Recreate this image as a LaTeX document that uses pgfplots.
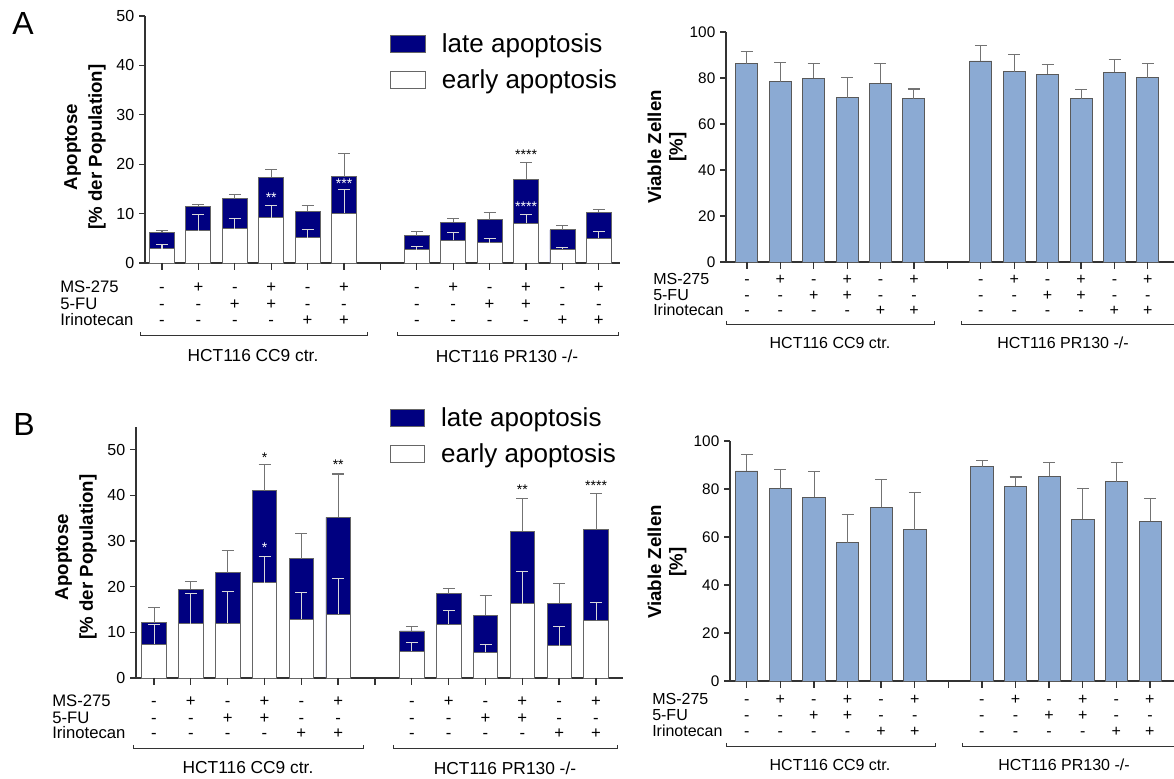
\documentclass[border=0pt]{standalone}
\usepackage{fontspec}
\setmainfont{Liberation Sans}
\usepackage{pgfplots}
\usepackage{pgfplotstable}
\pgfplotsset{compat=1.18}

\definecolor{late}{HTML}{000080}
\definecolor{viab}{HTML}{8BAAD3}
\definecolor{axc}{HTML}{333333}

% apoptosis: early part, its error, total (early+late), its error
\pgfplotstableread{
x early eerr total terr
0  2.9 0.8  6.2 0.3
1  6.5 3.4 11.5 0.4
2  6.9 2.2 13.0 0.8
3  9.2 2.4 17.4 1.6
4  5.1 1.6 10.5 1.2
5 10.1 4.7 17.5 4.6
7  2.7 0.7  5.5 0.8
8  4.6 1.5  8.2 0.8
9  4.1 0.8  8.8 1.5
10 8.0 1.8 17.0 3.3
11 2.8 0.3  6.7 0.9
12 5.0 1.4 10.3 0.5
}\Aapo

\pgfplotstableread{
x early eerr total terr
0   7.4 4.4 12.1 3.3
1  11.9 6.6 19.4 1.8
2  12.0 6.9 23.1 4.8
3  20.9 5.7 41.0 5.8
4  12.9 5.8 26.1 5.6
5  14.0 7.9 35.2 9.5
7   5.9 1.8 10.3 1.0
8  11.8 2.9 18.5 1.2
9   5.6 1.8 13.7 4.4
10 16.3 7.0 32.2 7.1
11  7.1 4.2 16.4 4.4
12 12.6 4.0 32.5 7.9
}\Bapo

\pgfplotstableread{
x v e
0  86.2 5.5
1  78.3 8.5
2  79.9 6.5
3  71.4 9.0
4  77.8 8.3
5  70.9 4.3
7  87.4 6.9
8  82.8 7.6
9  81.7 4.0
10 71.0 4.1
11 82.5 5.6
12 80.1 6.3
}\Aviab

\pgfplotstableread{
x v e
0  87.5 7.0
1  80.2 8.1
2  76.6 10.8
3  57.6 11.9
4  72.3 11.5
5  63.0 15.6
7  89.3 2.6
8  81.1 3.9
9  85.3 5.7
10 67.3 13.1
11 83.1 7.9
12 66.6 9.3
}\Bviab

\pgfplotsset{
  base/.style={
    scale only axis, anchor=south west, clip=false,
    axis lines=left, axis line style={-, draw=axc, line width=1pt},
    ybar,
    tick align=outside, major tick length=4.5pt,
    tick style={draw=axc, line width=1pt},
    enlargelimits=false, ymin=0, xtick=\empty,
    /pgf/number format/assume math mode=true,
  },
  leftp/.style={base,
    yticklabel style={font=\fontsize{12}{12}\selectfont},
    legend cell align=left,
    legend style={draw=none, fill=none, anchor=north west, inner sep=0pt,
      row sep=7pt, font=\fontsize{19.5}{19.5}\selectfont,
      /tikz/every odd column/.append style={column sep=10pt}},
    legend image code/.code={\draw[##1, draw=black!60, line width=0.7pt]
      (0pt,-6.4pt) rectangle (26pt,6.4pt);},
  },
  rightp/.style={base, ymax=100, ytick={0,20,...,100},
    yticklabel style={font=\fontsize{11.5}{11.5}\selectfont},
  },
  toterr/.style={error bars/.cd, y dir=plus, y explicit,
    error bar style={draw=black!55, line width=0.8pt},
    error mark options={rotate=90, draw=black!55, line width=0.8pt, mark size=4.5pt}},
  earlyerr/.style={error bars/.cd, y dir=plus, y explicit,
    error bar style={draw=black!15, line width=0.8pt},
    error mark options={rotate=90, draw=black!15, line width=0.8pt, mark size=4.5pt}},
}

% treatment rows under the bars: position/MS-275/5-FU/Irinotecan
\def\treat{0/-/-/-, 1/+/-/-, 2/-/+/-, 3/+/+/-, 4/-/-/+, 5/+/-/+,
  7/-/-/-, 8/+/-/-, 9/-/+/-, 10/+/+/-, 11/-/-/+, 12/+/-/+}

\begin{document}
\begin{tikzpicture}
\useasboundingbox (0pt,0pt) rectangle (880.5pt,583.5pt);

% ---------------- A left
\begin{axis}[leftp, at={(108.75pt,386.25pt)}, width=356.25pt, height=185.25pt,
  xmin=-0.467, xmax=12.58, ymax=50, ytick={0,10,...,50}, bar width=18.75pt,
  legend style={at={(0.516,0.94)}}]
\addplot[fill=late, draw=black!60, line width=0.7pt, bar shift=0pt, toterr]
  table[x=x, y=total, y error=terr] {\Aapo};
\addlegendentry{late apoptosis}
\addplot[fill=white, draw=black!60, line width=0.7pt, bar shift=0pt, earlyerr]
  table[x=x, y=early, y error=eerr] {\Aapo};
\addlegendentry{early apoptosis}
\node[text=white, font=\fontsize{10.5}{10.5}\selectfont] at (axis cs:3,13.3) {**};
\node[text=white, font=\fontsize{10.5}{10.5}\selectfont] at (axis cs:5,16.0) {***};
\node[text=white, font=\fontsize{10.5}{10.5}\selectfont] at (axis cs:10,11.3) {****};
\node[font=\fontsize{10.5}{10.5}\selectfont] at (axis cs:10,21.9) {****};
\end{axis}

% ---------------- A right
\begin{axis}[rightp, at={(544.5pt,387pt)}, width=336pt, height=172.5pt,
  xmin=-0.62, xmax=12.78, bar width=16.5pt]
\addplot[fill=viab, draw=black!65, line width=0.7pt, bar shift=0pt, toterr]
  table[x=x, y=v, y error=e] {\Aviab};
\end{axis}

% ---------------- B left
\begin{axis}[leftp, at={(102pt,75pt)}, width=365.25pt, height=188.25pt,
  xmin=-0.49, xmax=12.73, ymax=55, ytick={0,10,...,50}, bar width=18.4pt,
  legend style={at={(0.52,1.088)}}]
\addplot[fill=late, draw=black!60, line width=0.7pt, bar shift=0pt, toterr]
  table[x=x, y=total, y error=terr] {\Bapo};
\addlegendentry{late apoptosis}
\addplot[fill=white, draw=black!60, line width=0.7pt, bar shift=0pt, earlyerr]
  table[x=x, y=early, y error=eerr] {\Bapo};
\addlegendentry{early apoptosis}
\node[font=\fontsize{10.5}{10.5}\selectfont] at (axis cs:3,48.3) {*};
\node[text=white, font=\fontsize{10.5}{10.5}\selectfont] at (axis cs:3,28.6) {*};
\node[font=\fontsize{10.5}{10.5}\selectfont] at (axis cs:5,46.8) {**};
\node[font=\fontsize{10.5}{10.5}\selectfont] at (axis cs:10,41.2) {**};
\node[font=\fontsize{10.5}{10.5}\selectfont] at (axis cs:12,42.1) {****};
\end{axis}

% ---------------- B right
\begin{axis}[rightp, at={(547.5pt,72.75pt)}, width=333pt, height=180pt,
  xmin=-0.5, xmax=12.71, bar width=16.7pt]
\addplot[fill=viab, draw=black!65, line width=0.7pt, bar shift=0pt, toterr]
  table[x=x, y=v, y error=e] {\Bviab};
\end{axis}

% texts and brackets, placed in pixel units measured from the top left
\begin{scope}[shift={(0pt,583.5pt)}, x=0.75pt, y=-0.75pt]
\node[font=\fontsize{24}{24}\selectfont] at (23,24) {A};
\node[font=\fontsize{24}{24}\selectfont] at (24,424) {B};

% x tick marks below each axis
\foreach \i in {0,...,12} {
  \draw[axc, line width=1pt] ({162+36.4*\i},263) -- ({162+36.4*\i},270);
  \draw[axc, line width=1pt] ({747+33.4*\i},262) -- ({747+33.4*\i},269);
  \draw[axc, line width=1pt] ({154+36.83*\i},678) -- ({154+36.83*\i},685);
  \draw[axc, line width=1pt] ({746.7+33.6*\i},681) -- ({746.7+33.6*\i},688);
}

\node[rotate=90, align=center, font=\bfseries\fontsize{14}{18.5}\selectfont]
  at (85,147) {Apoptose\\{[}\% der Population{]}};
\node[rotate=90, align=center, font=\bfseries\fontsize{14}{18.5}\selectfont]
  at (76,557) {Apoptose\\{[}\% der Population{]}};
\node[rotate=90, align=center, font=\bfseries\fontsize{14}{16}\selectfont]
  at (667,147) {Viable Zellen\\{[}\%{]}};
\node[rotate=90, align=center, font=\bfseries\fontsize{14}{16}\selectfont]
  at (667,562) {Viable Zellen\\{[}\%{]}};

% treatment table: row names and +/- signs (baselines in px)
\begin{scope}[every node/.style={anchor=base, inner sep=0pt}]
\begin{scope}[font=\fontsize{12.5}{12.5}\selectfont]
\node[anchor=base west] at (60,293) {MS-275};
\node[anchor=base west] at (60,310) {5-FU};
\node[anchor=base west] at (60,326) {Irinotecan};
\node[anchor=base west] at (52,707) {MS-275};
\node[anchor=base west] at (52,724) {5-FU};
\node[anchor=base west] at (52,739) {Irinotecan};
\foreach \i/\a/\b/\c in \treat {
  \node at ({162+36.4*\i},293) {\a};
  \node at ({162+36.4*\i},310) {\b};
  \node at ({162+36.4*\i},326) {\c};
  \node at ({154+36.83*\i},707) {\a};
  \node at ({154+36.83*\i},724) {\b};
  \node at ({154+36.83*\i},739) {\c};
}
\end{scope}
\begin{scope}[font=\fontsize{12}{12}\selectfont]
\node[anchor=base west] at (653,285) {MS-275};
\node[anchor=base west] at (653,301) {5-FU};
\node[anchor=base west] at (653,316) {Irinotecan};
\node[anchor=base west] at (652,705) {MS-275};
\node[anchor=base west] at (652,721) {5-FU};
\node[anchor=base west] at (652,737) {Irinotecan};
\foreach \i/\a/\b/\c in \treat {
  \node at ({747+33.4*\i},285) {\a};
  \node at ({747+33.4*\i},301) {\b};
  \node at ({747+33.4*\i},316) {\c};
  \node at ({746.7+33.6*\i},705) {\a};
  \node at ({746.7+33.6*\i},721) {\b};
  \node at ({746.7+33.6*\i},737) {\c};
}
\end{scope}
\end{scope}

\begin{scope}[line width=0.7pt]
\draw[axc] (140,332) -- (140,335) -- (367,335) -- (367,332);
\draw[axc] (397,332) -- (397,335) -- (618,335) -- (618,332);
\draw[axc] (133,745) -- (133,748) -- (363,748) -- (363,745);
\draw[axc] (393,745) -- (393,748) -- (617,748) -- (617,745);
\draw[axc] (726,321) -- (726,324) -- (934,324) -- (934,321);
\draw[axc] (961,321) -- (961,324) -- (1174,324);
\draw[axc] (726,743) -- (726,746) -- (935,746) -- (935,743);
\draw[axc] (962,743) -- (962,746) -- (1174,746);
\end{scope}
\node[font=\fontsize{13}{13}\selectfont] at (253,356) {HCT116 CC9 ctr.};
\node[font=\fontsize{13}{13}\selectfont] at (507,356) {HCT116 PR130 -/-};
\node[font=\fontsize{13}{13}\selectfont] at (248,768) {HCT116 CC9 ctr.};
\node[font=\fontsize{13}{13}\selectfont] at (505,768) {HCT116 PR130 -/-};
\node[font=\fontsize{12}{12}\selectfont] at (830,343) {HCT116 CC9 ctr.};
\node[font=\fontsize{12}{12}\selectfont] at (1063,343) {HCT116 PR130 -/-};
\node[font=\fontsize{12}{12}\selectfont] at (830,765) {HCT116 CC9 ctr.};
\node[font=\fontsize{12}{12}\selectfont] at (1064,765) {HCT116 PR130 -/-};
\end{scope}
\end{tikzpicture}
\end{document}
